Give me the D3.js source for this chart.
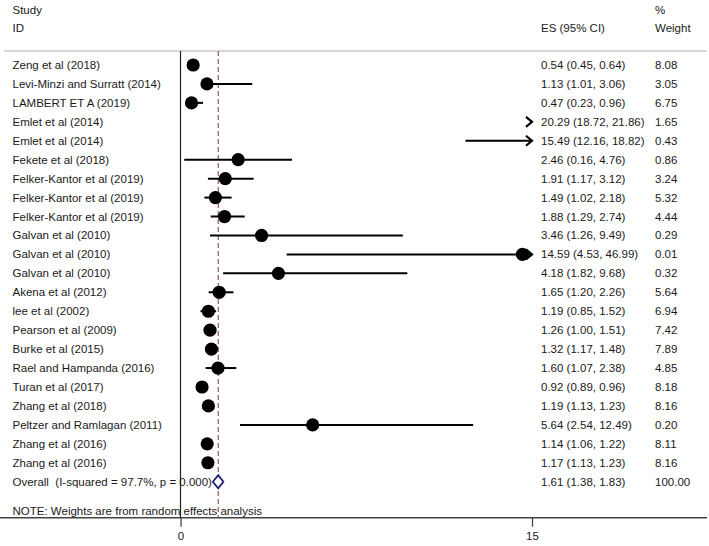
<!DOCTYPE html>
<html>
<head>
<meta charset="utf-8">
<script src="https://cdn.jsdelivr.net/npm/d3@7"></script>
<style>
  html, body { margin: 0; padding: 0; background: #fff; }
  svg { display: block; }
  text { font-family: "Liberation Sans", Arial, sans-serif; font-size: 11.5px; fill: #1a1a1a; white-space: pre; }
</style>
</head>
<body>
<svg id="chart" width="709" height="546"></svg>
<script>
const studies = [
  "Zeng et al (2018)", "Levi-Minzi and Surratt (2014)", "LAMBERT ET A (2019)",
  "Emlet et al (2014)", "Emlet et al (2014)", "Fekete et al (2018)",
  "Felker-Kantor et al (2019)", "Felker-Kantor et al (2019)", "Felker-Kantor et al (2019)",
  "Galvan et al (2010)", "Galvan et al (2010)", "Galvan et al (2010)",
  "Akena et al (2012)", "lee et al (2002)", "Pearson et al (2009)",
  "Burke et al (2015)", "Rael and Hampanda (2016)", "Turan et al (2017)",
  "Zhang et al (2018)", "Peltzer and Ramlagan (2011)", "Zhang et al (2016)", "Zhang et al (2016)"
];
const es    = [0.54, 1.13, 0.47, 20.29, 15.49, 2.46, 1.91, 1.49, 1.88, 3.46, 14.59, 4.18, 1.65, 1.19, 1.26, 1.32, 1.60, 0.92, 1.19, 5.64, 1.14, 1.17];
const lower = [0.45, 1.01, 0.23, 18.72, 12.16, 0.16, 1.17, 1.02, 1.29, 1.26, 4.53, 1.82, 1.20, 0.85, 1.00, 1.17, 1.07, 0.89, 1.13, 2.54, 1.06, 1.13];
const upper = [0.64, 3.06, 0.96, 21.86, 18.82, 4.76, 3.12, 2.18, 2.74, 9.49, 46.99, 9.68, 2.26, 1.52, 1.51, 1.48, 2.38, 0.96, 1.23, 12.49, 1.22, 1.23];
const weights = [8.08, 3.05, 6.75, 1.65, 0.43, 0.86, 3.24, 5.32, 4.44, 0.29, 0.01, 0.32, 5.64, 6.94, 7.42, 7.89, 4.85, 8.18, 8.16, 0.20, 8.11, 8.16];
const overall = { label: "Overall  (I-squared = 97.7%, p = 0.000)", es: 1.61, lower: 1.38, upper: 1.83, weight: 100.00 };
const xTicks = [0, 15];
const note = "NOTE: Weights are from random effects analysis";

const svg = d3.select("#chart");
const f2 = d3.format(".2f");
const xMax = 15;
const x = d3.scaleLinear().domain([0, xMax]).range([180.5, 532]);
const y = d3.scaleLinear().domain([0, studies.length]).range([65, 481.7]);

const colLabel = 12.5, colES = 541, colW = 655;
const topY = 51, axisY = 517.7;

// header
svg.append("text").attr("x", colLabel).attr("y", 9.5).attr("dy", "0.35em").text("Study");
svg.append("text").attr("x", colLabel).attr("y", 28.3).attr("dy", "0.35em").text("ID");
svg.append("text").attr("x", colW).attr("y", 9.5).attr("dy", "0.35em").text("%");
svg.append("text").attr("x", colES).attr("y", 28.3).attr("dy", "0.35em").text("ES (95% CI)");
svg.append("text").attr("x", colW).attr("y", 28.3).attr("dy", "0.35em").text("Weight");
svg.append("line").attr("x1", 4).attr("x2", 707).attr("y1", topY).attr("y2", topY)
  .attr("stroke", "#c9c9c9").attr("stroke-width", 1.6);

// rows text
const rows = studies.map((s, i) => ({ s, es: es[i], lo: lower[i], hi: upper[i], w: weights[i], i }));
const g = svg.append("g");
g.selectAll("text.lab").data(rows).join("text").attr("class", "lab")
  .attr("x", colLabel).attr("y", d => y(d.i)).attr("dy", "0.35em").text(d => d.s);
g.selectAll("text.es").data(rows).join("text").attr("class", "es")
  .attr("x", colES).attr("y", d => y(d.i)).attr("dy", "0.35em")
  .text(d => `${f2(d.es)} (${f2(d.lo)}, ${f2(d.hi)})`);
g.selectAll("text.w").data(rows).join("text").attr("class", "w")
  .attr("x", colW).attr("y", d => y(d.i)).attr("dy", "0.35em").text(d => f2(d.w));

const oy = y(studies.length);
svg.append("text").attr("x", colLabel).attr("y", oy).attr("dy", "0.35em").text(overall.label);
svg.append("text").attr("x", colES).attr("y", oy).attr("dy", "0.35em")
  .text(`${f2(overall.es)} (${f2(overall.lower)}, ${f2(overall.upper)})`);
svg.append("text").attr("x", colW).attr("y", oy).attr("dy", "0.35em").text(f2(overall.weight));
svg.append("text").attr("x", colLabel).attr("y", 511).attr("dy", "0.35em").text(note);

// axis
const axisG = svg.append("g").attr("transform", `translate(0,${axisY})`)
  .call(d3.axisBottom(x).tickValues(xTicks).tickSize(9).tickPadding(5).tickFormat(d3.format("d")));
axisG.select(".domain").remove();
axisG.selectAll(".tick line").attr("stroke", "#444").attr("stroke-width", 1.3);
axisG.selectAll(".tick text").attr("font-family", "Liberation Sans, Arial, sans-serif")
  .attr("font-size", 11.5).attr("fill", "#1a1a1a");
svg.append("line").attr("x1", 0).attr("x2", 707).attr("y1", axisY).attr("y2", axisY)
  .attr("stroke", "#444").attr("stroke-width", 1.5);

// vertical null line
svg.append("line").attr("x1", x(0)).attr("x2", x(0)).attr("y1", topY).attr("y2", axisY)
  .attr("stroke", "#222").attr("stroke-width", 1.2);

// overall dashed line
svg.append("line").attr("x1", x(overall.es)).attr("x2", x(overall.es)).attr("y1", topY).attr("y2", axisY)
  .attr("stroke", "#8b2e2e").attr("stroke-width", 1).attr("stroke-dasharray", "5,3");

// CI lines
const clip = v => Math.max(0, Math.min(xMax, v));
const ci = svg.append("g");
rows.forEach(d => {
  const yy = y(d.i);
  if (d.lo < xMax) {
    ci.append("line").attr("x1", x(clip(d.lo))).attr("x2", x(clip(d.hi)))
      .attr("y1", yy).attr("y2", yy).attr("stroke", "#000").attr("stroke-width", 2);
  }
  if (d.hi > xMax) {
    const tx = x(xMax);
    ci.append("path").attr("d", `M${tx - 6},${yy - 5}L${tx},${yy}L${tx - 6},${yy + 5}`)
      .attr("fill", "none").attr("stroke", "#000").attr("stroke-width", 2.2);
  }
  if (d.es <= xMax) {
    ci.append("circle").attr("cx", x(d.es)).attr("cy", yy).attr("r", 6.6).attr("fill", "#000");
  }
});

// overall diamond
svg.append("path")
  .attr("d", `M${x(overall.lower)},${oy}L${x(overall.es)},${oy - 6.5}L${x(overall.upper)},${oy}L${x(overall.es)},${oy + 6.5}Z`)
  .attr("fill", "#fff").attr("stroke", "#1f1f7a").attr("stroke-width", 1.8);
</script>
</body>
</html>
